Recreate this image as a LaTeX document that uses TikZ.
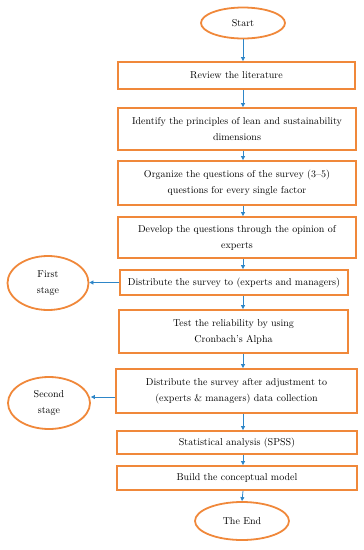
\documentclass[tikz,border=0pt]{standalone}
\usepackage{xcolor}
\usepackage{tikz}
\usetikzlibrary{shapes.geometric, arrows.meta, positioning, calc}
\definecolor{boxorange}{HTML}{F0883A}
\definecolor{arrowblue}{HTML}{2E86C8}
\tikzset{
  stepbox/.style = {rectangle, draw=boxorange, line width=1.8pt, align=center,
                    inner sep=0pt, font=\fontsize{10}{16}\selectfont},
  term/.style    = {ellipse, draw=boxorange, line width=1.8pt, align=center,
                    inner sep=0pt, font=\fontsize{10}{16}\selectfont},
  arrow/.style   = {draw=arrowblue, line width=0.8pt, -{Triangle[length=4pt,width=4pt]}},
}

\begin{document}
\begin{tikzpicture}[x=1pt, y=-1pt]

    \useasboundingbox (0,0) rectangle (364,550);

    %% Main column (top to bottom)
    \node[term, minimum width=84, minimum height=31]    (start) at (243, 23)    {Start};
    \node[stepbox, minimum width=237, minimum height=27] (lit)   at (236.5, 75.5) {Review the literature};
    \node[stepbox, minimum width=238, minimum height=42] (princ) at (237, 129)   {Identify the principles of lean and sustainability\\dimensions};
    \node[stepbox, minimum width=238, minimum height=44] (organ) at (237, 183)   {Organize the questions of the survey (3--5)\\questions for every single factor};
    \node[stepbox, minimum width=238, minimum height=41] (devel) at (237, 237.5) {Develop the questions through the opinion of\\experts};
    \node[stepbox, minimum width=228, minimum height=25] (dist1) at (234, 282.5) {Distribute the survey to (experts and managers)};
    \node[stepbox, minimum width=229, minimum height=43] (relia) at (233.5, 331.5) {Test the reliability by using\\Cronbach's Alpha};
    \node[stepbox, minimum width=241, minimum height=44] (dist2) at (236.5, 391) {Distribute the survey after adjustment to\\(experts \& managers) data collection};
    \node[stepbox, minimum width=240, minimum height=23] (stat)  at (237, 442.5) {Statistical analysis (SPSS)};
    \node[stepbox, minimum width=240, minimum height=24] (build) at (237, 478)   {Build the conceptual model};
    \node[term, minimum width=94, minimum height=38]    (theend) at (242, 521)  {The End};

    %% Stage ellipses (left)
    \node[term, minimum width=81, minimum height=54] (first)  at (48, 283) {First\\stage};
    \node[term, minimum width=82, minimum height=52] (second) at (49, 403) {Second\\stage};

    %% Vertical connectors
    \draw[arrow] (start.south) -- (start |- lit.north);
    \draw[arrow] (lit.south -| start)   -- (princ.north -| start);
    \draw[arrow] (princ.south -| start) -- (organ.north -| start);
    \draw[arrow] (organ.south -| start) -- (devel.north -| start);
    \draw[arrow] (devel.south -| start) -- (dist1.north -| start);
    \draw[arrow] (dist1.south -| start) -- (relia.north -| start);
    \draw[arrow] (relia.south -| start) -- (dist2.north -| start);
    \draw[arrow] (dist2.south -| start) -- (stat.north -| start);
    \draw[arrow] (stat.south -| start)  -- (build.north -| start);
    \draw[arrow] (build.south -| start) -- (theend.north);

    %% Side connectors to the stages
    \draw[arrow] (dist1.west) -- (first.east |- dist1.west);
    \draw[arrow] ($(dist2.west)+(0,6)$) -- ($(second.east |- dist2.west)+(0,6)$);

\end{tikzpicture}
\end{document}
